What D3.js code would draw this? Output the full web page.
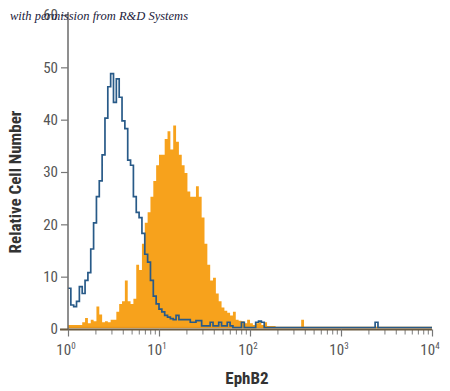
<!DOCTYPE html>
<html><head><meta charset="utf-8">
<script src="https://cdn.jsdelivr.net/npm/d3@7"></script>
<style>body{margin:0;background:#fff}svg{display:block}</style>
</head><body>
<svg id="c" width="450" height="391"></svg>
<script>
// ---- data ----
const yTicks = [0, 10, 20, 30, 40, 50, 60];
const xTickExponents = [0, 1, 2, 3, 4];
const channelsPerDecade = 32; // histogram bins: 128 channels over 4 decades
// isotype control (blue outline), counts per channel
const controlCounts = [
  7.5, 4.3, 4.0, 5.0, 7.8, 6.5, 9.0, 10.5, 15, 20,
  25, 28, 33, 40, 46, 48.5, 43, 47.5, 44, 39.5,
  38, 32, 31, 25, 22, 21, 18, 14, 12.5, 9,
  6, 4.5, 3.5, 3, 2.3, 2, 1.7, 1.5, 2.3, 1.5,
  1.5, 1.5, 1.5, 1, 1, 1.3, 1.3, 0.3, 0.3, 0.3,
  1, 0.3, 0.3, 1, 0.3, 0.3, 1, 0.3, 0, 0,
  0, 1, 0, 0, 0, 0, 1, 1.2, 1, 0,
  0, 0, 0, 0, 0, 0, 0, 0, 0, 0,
  0, 0, 0, 0, 0, 0, 0, 0, 0, 0,
  0, 0, 0, 0, 0, 0, 0, 0, 0, 0,
  0, 0, 0, 0, 0, 0, 0, 0, 1, 0,
  0, 0, 0, 0, 0, 0, 0, 0, 0, 0,
  0, 0, 0, 0, 0, 0, 0, 0
];
// EphB2 stained (orange filled), counts per channel
const ephb2Counts = [
  0.5, 0.5, 0.5, 0.5, 0.5, 1.0, 1.8, 0.8, 1.5, 1.2,
  4.0, 2.5, 1.0, 1.2, 1.0, 1.5, 1.5, 3.0, 4.5, 5.0,
  9.0, 5.0, 4.5, 5.5, 12, 11, 16, 20, 22, 25,
  28, 31, 33, 33, 36, 37.5, 34, 38.6, 35.5, 33,
  31, 29.5, 26, 25, 25, 27, 25, 21, 16, 12,
  9, 9.5, 6.5, 5, 3.8, 3.2, 2.8, 2.3, 3.0, 1.5,
  1.3, 1.2, 0.8, 1.5, 0.8, 0.5, 0.8, 1.0, 0.5, 1.0,
  0.3, 0.3, 0.3, 0, 0, 0, 0, 0, 0, 0,
  0, 0, 1.5, 0, 0, 0, 0, 0, 0, 0,
  0, 0, 0, 0, 0, 0, 0, 0, 0, 0,
  0, 0, 0, 0, 0, 0, 0, 0, 0, 0,
  0, 0, 0, 0, 0, 0, 0, 0, 0, 0,
  0, 0, 0, 0, 0, 0, 0, 0
];
const xLabel = "EphB2";
const yLabel = "Relative Cell Number";
const watermark = "with permission from R&D Systems";

// ---- layout ----
const svg = d3.select("#c");
const x = d3.scaleLog().domain([1, 1e4]).range([68, 432]);
const y = d3.scaleLinear().domain([0, 60]).range([329, 15]);
const condensed = "'Liberation Sans Narrow','Roboto Condensed','Open Sans Condensed','Liberation Sans',sans-serif";

function toPoints(counts) {
  const pts = counts.map((c, i) => [Math.pow(10, i / channelsPerDecade), c]);
  pts.push([Math.pow(10, counts.length / channelsPerDecade), counts[counts.length - 1]]);
  return pts;
}

const hist = svg.append("g").attr("transform", "translate(0,-1.5)");
hist.append("path")
  .datum(toPoints(ephb2Counts))
  .attr("fill", "#f7a21c")
  .attr("d", d3.area().curve(d3.curveStepAfter).x(d => x(d[0])).y0(y(0)).y1(d => y(d[1])));
hist.append("line")
  .attr("x1", x(1)).attr("x2", x(1e4)).attr("y1", y(0)).attr("y2", y(0))
  .attr("stroke", "#e8961c").attr("stroke-width", 1.5);
hist.append("path")
  .datum(toPoints(controlCounts))
  .attr("fill", "none").attr("stroke", "#285a88").attr("stroke-width", 1.7)
  .attr("stroke-linejoin", "miter")
  .attr("d", d3.line().curve(d3.curveStepAfter).x(d => x(d[0])).y(d => y(d[1])));

// y axis
const yAxis = svg.append("g").attr("transform", `translate(${x(1)},0)`)
  .call(d3.axisLeft(y).tickValues(yTicks).tickSize(7).tickPadding(3));
yAxis.select(".domain").attr("stroke", "#6a6a6a").attr("stroke-width", 1.5).attr("d", `M0,${y(60)-3}V${y(0)}`);
yAxis.selectAll(".tick line").attr("stroke", "#777").attr("stroke-width", 1.2);
yAxis.selectAll(".tick text").attr("font-family", condensed).attr("font-size", 15).attr("fill", "#555");

// x axis
const minorTicks = [];
for (let e = 0; e < 4; e++) for (let m = 2; m <= 9; m++) minorTicks.push(m * Math.pow(10, e));
const xAxisG = svg.append("g").attr("transform", `translate(0,${y(0)+0.5})`);
xAxisG.append("g")
  .call(d3.axisBottom(x).tickValues(minorTicks).tickSize(5).tickFormat(""))
  .call(g => g.select(".domain").remove())
  .selectAll(".tick line").attr("stroke", "#888").attr("stroke-width", 1.1);
const maj = xAxisG.append("g")
  .call(d3.axisBottom(x).tickValues(xTickExponents.map(e => Math.pow(10, e))).tickSize(7).tickFormat(""));
maj.select(".domain").attr("stroke", "#6b5a40").attr("stroke-width", 1.8).attr("d", `M${x(1)-8},0H${x(1e4)}`);
maj.selectAll(".tick line").attr("stroke", "#777").attr("stroke-width", 1.2);
const lbl = svg.append("g");
xTickExponents.forEach(e => {
  const t = lbl.append("text").attr("x", x(Math.pow(10, e)) - 2).attr("y", 355)
    .attr("text-anchor", "middle").attr("font-family", condensed).attr("font-size", 15).attr("fill", "#555");
  t.append("tspan").text("10");
  t.append("tspan").attr("dy", -6).attr("font-size", 9).text(String(e));
});

svg.append("text").attr("x", 247).attr("y", 384).attr("text-anchor", "middle")
  .attr("font-family", condensed).attr("font-weight", "bold").attr("font-size", 17).attr("fill", "#333")
  .text(xLabel);
svg.append("text").attr("transform", "translate(21,182) rotate(-90)").attr("text-anchor", "middle")
  .attr("font-family", condensed).attr("font-weight", "bold").attr("font-size", 17).attr("fill", "#333")
  .text(yLabel);

svg.append("text").attr("x", 10).attr("y", 20)
  .attr("font-family", "'Liberation Serif','DejaVu Serif',serif").attr("font-style", "italic")
  .attr("font-size", 12.5).attr("fill", "#1b1b3b").text(watermark);
</script>
</body></html>
